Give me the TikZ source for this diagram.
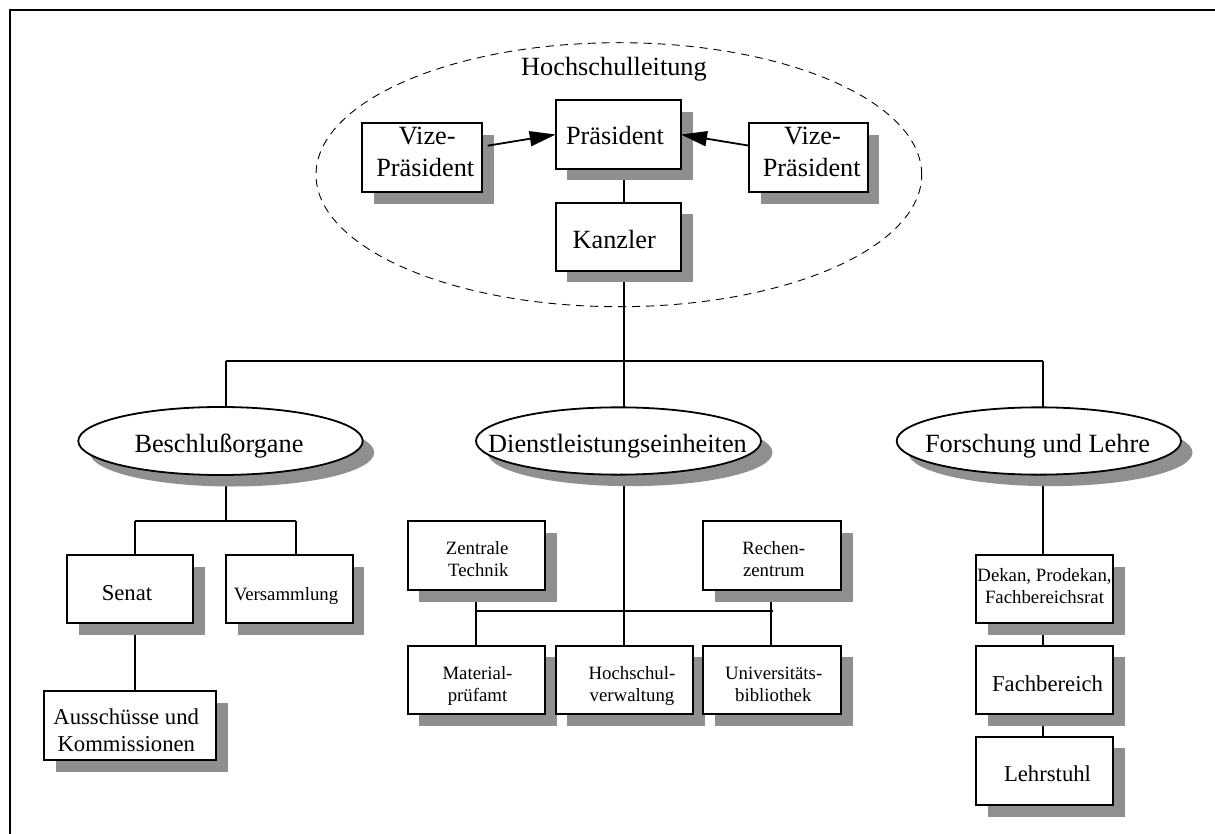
\documentclass[tikz,border=0pt]{standalone}
\usepackage{fontspec}
\setmainfont{Liberation Serif}
\usetikzlibrary{shapes.geometric,shadows,arrows.meta,calc}
\definecolor{shadowgray}{gray}{0.56}
\pgfdeclarelayer{background}
\pgfsetlayers{background,main}
\tikzset{
  unit/.style={draw, line width=1.8pt, fill=white, inner sep=0pt, outer sep=0pt,
    drop shadow={shadow xshift=11.5pt, shadow yshift=-11.5pt, fill=shadowgray, opacity=1}},
  orgbox/.style={unit, rectangle},
  group/.style={unit, ellipse},
  big/.style={font=\fontsize{26.3}{31}\selectfont, inner sep=0pt, anchor=base},
  mid/.style={font=\fontsize{22.7}{27}\selectfont, inner sep=0pt, anchor=base},
  sml/.style={font=\fontsize{18.8}{22}\selectfont, inner sep=0pt, anchor=base},
  link/.style={line width=1.8pt},
  rank/.style={-{Triangle[length=26pt,width=15pt]}, line width=1.8pt},
  leadership/.style={draw, ellipse, dash pattern=on 8pt off 6pt, line width=0.9pt, inner sep=0pt},
}
\begin{document}
\begin{tikzpicture}[x=1pt,y=-1pt]
\useasboundingbox (0,0) rectangle (1215,834);

% frame
\draw[line width=2.5pt] (10,834) -- (10,10) -- (1215,10);

% university leadership
\node[leadership, minimum width=605.7pt, minimum height=264pt] (hl) at (618.85,174.7) {};
\node[big] (hl-t) at (614,76) {Hochschulleitung};

\node[orgbox, minimum width=125.3pt, minimum height=68.4pt] (pres) at (618.35,134.5) {};
\node[orgbox, minimum width=125.3pt, minimum height=68pt]   (kanz) at (618.35,236.7) {};
\node[orgbox, minimum width=119.7pt, minimum height=69pt]   (vl)   at (422.15,157.8) {};
\node[orgbox, minimum width=118.4pt, minimum height=69pt]   (vr)   at (808.5,157.8) {};

\node[big] (pres-t) at (615,145) {Präsident};
\node[big] (kanz-t) at (614.2,248.3) {Kanzler};
\node[big] (vl-t1) at (427.2,145) {Vize-};
\node[big] (vl-t2) at (425.3,176.7) {Präsident};
\node[big] (vr-t1) at (812.5,145) {Vize-};
\node[big] (vr-t2) at (811.7,176.7) {Präsident};

% three pillars
\node[group, minimum width=284.4pt, minimum height=68pt]   (beo) at (220.5,441) {};
\node[group, minimum width=285pt,   minimum height=67.3pt] (die) at (618.5,441) {};
\node[group, minimum width=284.3pt, minimum height=67.3pt] (fol) at (1038.85,441) {};
\node[big] (beo-t) at (219,452.3) {Beschlußorgane};
\node[big] (die-t) at (617.5,452.3) {Dienstleistungseinheiten};
\node[big] (fol-t) at (1037.5,452.3) {Forschung und Lehre};

% decision bodies
\node[orgbox, minimum width=125.7pt, minimum height=68.3pt] (senat) at (130.15,589.15) {};
\node[orgbox, minimum width=126.7pt, minimum height=68.3pt] (vers)  at (289.35,589.15) {};
\node[orgbox, minimum width=172pt,   minimum height=69pt]   (aus)   at (130.3,725.5) {};
\node[mid] (senat-t) at (127,600) {Senat};
\node[sml] (vers-t) at (286,600) {Versammlung};
\node[mid] (aus-t1) at (126.2,724.3) {Ausschüsse und};
\node[mid] (aus-t2) at (126.3,751) {Kommissionen};

% service units
\node[orgbox, minimum width=137.6pt, minimum height=69pt]   (zt) at (476.5,555.5) {};
\node[orgbox, minimum width=137.7pt, minimum height=69pt]   (rz) at (772.15,555.5) {};
\node[orgbox, minimum width=137.6pt, minimum height=68.6pt] (mp) at (476.5,680) {};
\node[orgbox, minimum width=137.3pt, minimum height=68.6pt] (hv) at (624.35,680) {};
\node[orgbox, minimum width=137.7pt, minimum height=68.6pt] (ub) at (772.15,680) {};
\node[sml] (zt-t1) at (477.2,554.3) {Zentrale};
\node[sml] (zt-t2) at (478.3,576.7) {Technik};
\node[sml] (rz-t1) at (773.7,554.3) {Rechen-};
\node[sml] (rz-t2) at (773.8,576.7) {zentrum};
\node[sml] (mp-t1) at (477.5,679.3) {Material-};
\node[sml] (mp-t2) at (477.5,701.7) {prüfamt};
\node[sml] (hv-t1) at (632,679.3) {Hochschul-};
\node[sml] (hv-t2) at (632,701.7) {verwaltung};
\node[sml] (ub-t1) at (773.7,679.3) {Universitäts-};
\node[sml] (ub-t2) at (773.3,701.7) {bibliothek};

% research and teaching
\node[orgbox, minimum width=137.3pt, minimum height=68.3pt] (dek) at (1044.65,589.15) {};
\node[orgbox, minimum width=137.3pt, minimum height=68.3pt] (fb)  at (1044.65,679.85) {};
\node[orgbox, minimum width=137.3pt, minimum height=68.3pt] (ls)  at (1044.65,770.85) {};
\node[sml] (dek-t1) at (1044.5,581.7) {Dekan, Prodekan,};
\node[sml] (dek-t2) at (1044.5,603.3) {Fachbereichsrat};
\node[mid] (fb-t) at (1047.5,691) {Fachbereich};
\node[mid] (ls-t) at (1047.5,781.7) {Lehrstuhl};

% bus junctions
\coordinate (busL) at (225.7,361);
\coordinate (busC) at (624,361);
\coordinate (busR) at (1043.3,361);
\coordinate (sbM) at (225.7,521);
\coordinate (sbL) at (135,521);
\coordinate (sbR) at (295.7,521);
\coordinate (sdL) at (476,611);
\coordinate (sdR) at (771,611);

\begin{pgfonlayer}{background}
  \draw[link] (pres.south -| busC) -- (kanz.north -| busC);
  \draw[link] (kanz.south -| busC) -- (die.north -| busC);
  \draw[link] (busL) -- (busR);
  \draw[link] (busL) -- (beo.north -| busL);
  \draw[link] (busR) -- (fol.north -| busR);
  % decision bodies
  \draw[link] (beo.south -| busL) -- (sbM);
  \draw[link] (sbL) -- (sbR);
  \draw[link] (sbL) -- (senat.north -| sbL);
  \draw[link] (sbR) -- (vers.north -| sbR);
  \draw[link] (senat.south -| sbL) -- (aus.north -| sbL);
  % service units
  \draw[link] (die.south -| busC) -- (hv.north -| busC);
  \draw[link] (sdL) -- ([xshift=2pt]sdR);
  \draw[link] (zt.south -| sdL) -- (mp.north -| sdL);
  \draw[link] (rz.south -| sdR) -- (ub.north -| sdR);
  % research and teaching
  \draw[link] (fol.south -| busR) -- (dek.north -| busR);
  \draw[link] (dek.south -| busR) -- (fb.north -| busR);
  \draw[link] (fb.south -| busR) -- (ls.north -| busR);
\end{pgfonlayer}

% vice presidents report to the president
\draw[rank] ($(vl.east)+(5.7,-12.1)$) -- (pres.west);
\draw[rank] ($(vr.west)+(0,-12.1)$) -- (pres.east);
\end{tikzpicture}
\end{document}
